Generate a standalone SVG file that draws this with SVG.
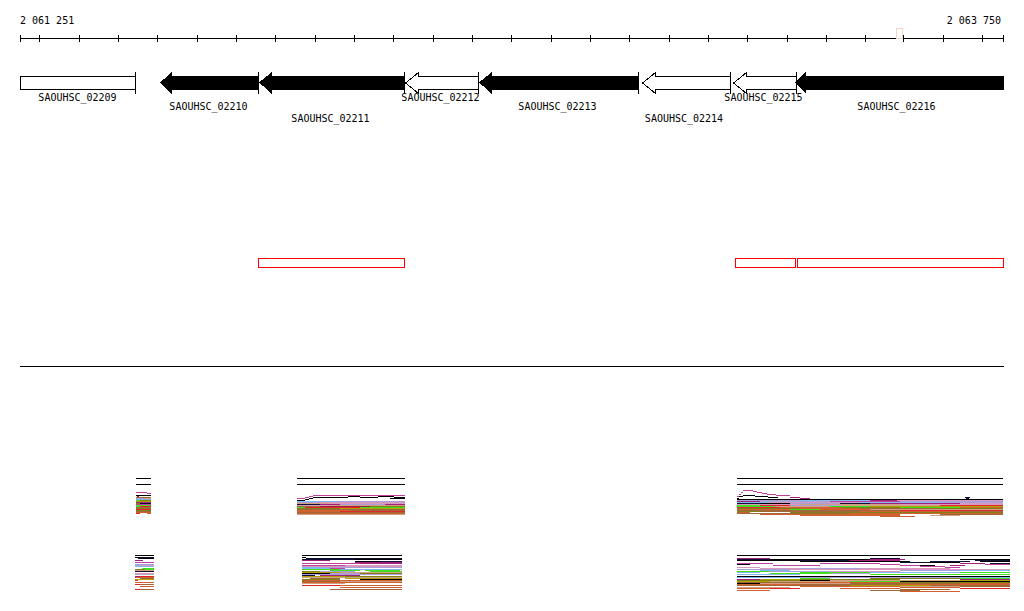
<svg xmlns="http://www.w3.org/2000/svg" width="1024" height="611" viewBox="0 0 1024 611">
<style>
text{font-family:"DejaVu Sans Mono","Liberation Mono",monospace;font-size:10px;fill:#000}
.lab{text-anchor:middle}
.ln{fill:none;stroke:#000;stroke-width:1;shape-rendering:crispEdges}
.blk{fill:#000;stroke:none;shape-rendering:crispEdges}
.wht{fill:#fff;stroke:#000;stroke-width:1;shape-rendering:crispEdges}
.red{fill:none;stroke:#f00;stroke-width:1;shape-rendering:crispEdges}
path.p{fill:none;stroke-width:1;shape-rendering:crispEdges}
.k{stroke:#000}.nv{stroke:#101035}.mg{stroke:#a0207a}.pk{stroke:#c040a0}.lp{stroke:#d898c0}
.lv{stroke:#a8a0d8}.lb{stroke:#80b8f0}.gr{stroke:#40e020}.ol{stroke:#808018}.yo{stroke:#b0a000}
.br{stroke:#a06838}.or{stroke:#d06030}.rd{stroke:#e02828}.dr{stroke:#a02040}.tn{stroke:#d0a080}.gy{stroke:#b0b0b0}
</style>

<g id="ruler">
<text x="20" y="24">2 061 251</text>
<text x="1001" y="24" text-anchor="end">2 063 750</text>
<path class="ln" d="M20 38.5H1004 M20.5 35V42 M1003.5 35V42 M39.5 35V42 M79.5 35V42 M118.5 35V42 M157.5 35V42 M197.5 35V42 M236.5 35V42 M275.5 35V42 M315.5 35V42 M354.5 35V42 M393.5 35V42 M433.5 35V42 M472.5 35V42 M511.5 35V42 M551.5 35V42 M590.5 35V42 M629.5 35V42 M669.5 35V42 M708.5 35V42 M747.5 35V42 M787.5 35V42 M826.5 35V42 M865.5 35V42 M903.5 35V42 M943.5 35V42 M982.5 35V42"/>
<rect x="896.5" y="28.5" width="6" height="10" fill="#fff" stroke="#f4d4c4" stroke-width="1" shape-rendering="crispEdges"/>
</g>

<g id="SAOUHSC_02209">
<rect class="wht" x="20.5" y="76.5" width="115" height="13"/>
<path class="ln" d="M135.5 72V94"/>
<text class="lab" x="77.5" y="101">SAOUHSC_02209</text>
</g>
<g id="SAOUHSC_02210">
<polygon class="blk" points="160,82.5 172,72 172,76 258,76 258,90 172,90 172,94"/>
<path class="ln" d="M258.5 72V94"/>
<text class="lab" x="208.5" y="110">SAOUHSC_02210</text>
</g>
<g id="SAOUHSC_02211">
<polygon class="blk" points="259,82.5 272,72 272,76 404,76 404,90 272,90 272,94"/>
<path class="ln" d="M404.5 72V94"/>
<text class="lab" x="330.5" y="122">SAOUHSC_02211</text>
</g>
<g id="SAOUHSC_02212">
<polygon class="wht" points="405.5,83 418.5,72.5 418.5,76.5 478.5,76.5 478.5,89.5 418.5,89.5 418.5,93.5"/>
<path class="ln" d="M478.5 72V94"/>
<text class="lab" x="440.5" y="101">SAOUHSC_02212</text>
</g>
<g id="SAOUHSC_02213">
<polygon class="blk" points="479,82.5 492,72 492,76 638,76 638,90 492,90 492,94"/>
<path class="ln" d="M638.5 72V94"/>
<text class="lab" x="557.5" y="110">SAOUHSC_02213</text>
</g>
<g id="SAOUHSC_02214">
<polygon class="wht" points="642.5,83 655.5,72.5 655.5,76.5 730.5,76.5 730.5,89.5 655.5,89.5 655.5,93.5"/>
<path class="ln" d="M730.5 72V94"/>
<text class="lab" x="684" y="122">SAOUHSC_02214</text>
</g>
<g id="SAOUHSC_02215">
<polygon class="wht" points="733.5,83 746.5,72.5 746.5,76.5 796.5,76.5 796.5,89.5 746.5,89.5 746.5,93.5"/>
<path class="ln" d="M796.5 72V94"/>
<text class="lab" x="763.5" y="101">SAOUHSC_02215</text>
</g>
<g id="SAOUHSC_02216">
<polygon class="blk" points="795,82.5 806,72 806,76 1004,76 1004,90 806,90 806,94"/>
<text class="lab" x="896.5" y="110">SAOUHSC_02216</text>
</g>

<g id="features">
<rect class="red" x="258.5" y="258.5" width="146" height="9"/>
<rect class="red" x="735.5" y="258.5" width="60" height="9"/>
<rect class="red" x="797.5" y="258.5" width="206" height="9"/>
</g>

<g id="connectors">
<path class="ln" d="M20 366.5H1004"/>
</g>

<g id="track1">
<!-- column A -->
<path class="p k" d="M136 478.5H151M136 484.5H151M136 495.5H151"/>
<path class="p pk" d="M136 492.5H147M147 493.5H151M136 504.5H151"/>
<path class="p dr" d="M137 496.5H139"/>
<path class="p br" d="M136 497.5H151M136 507.5H151M136 511.5H151"/>
<path class="p lv" d="M136 498.5H144"/>
<path class="p tn" d="M144 498.5H151"/>
<path class="p lb" d="M136 499.5H151"/>
<path class="p gr" d="M136 500.5H140M136 505.5H151M136 506.5H140"/>
<path class="p ol" d="M140 500.5H151M136 503.5H140M136 508.5H151M136 510.5H151"/>
<path class="p yo" d="M136 501.5H151"/>
<path class="p mg" d="M136 502.5H151"/>
<path class="p nv" d="M140 503.5H151"/>
<path class="p rd" d="M140 506.5H151M136 509.5H151M136 513.5H140"/>
<path class="p or" d="M136 512.5H151M147 513.5H151"/>
<!-- column B -->
<path class="p k" d="M297 478.5H405M297 484.5H405M297 500.5H305M305 499.5H309M309 498.5H313M313 497.5H348M348 496.5H360M360 497.5H378M378 496.5H394M394 497.5H405M390 498.5H405"/>
<path class="p pk" d="M297 498.5H305M305 497.5H309M309 496.5H313M313 495.5H405"/>
<path class="p lb" d="M297 501.5H340"/>
<path class="p lv" d="M340 501.5H405M297 502.5H320M340 504.5H385"/>
<path class="p lp" d="M320 502.5H405M330 503.5H405M297 505.5H330"/>
<path class="p tn" d="M297 503.5H330M330 505.5H405M297 514.5H405"/>
<path class="p nv" d="M297 504.5H320"/>
<path class="p mg" d="M320 504.5H340M385 504.5H405"/>
<path class="p br" d="M297 506.5H320M297 509.5H405M350 510.5H405M297 512.5H405"/>
<path class="p dr" d="M320 506.5H370"/>
<path class="p ol" d="M370 506.5H405M297 508.5H340"/>
<path class="p gr" d="M297 507.5H305M360 507.5H405"/>
<path class="p rd" d="M305 507.5H360M340 511.5H405"/>
<path class="p yo" d="M340 508.5H405"/>
<path class="p or" d="M297 510.5H350M297 511.5H340M297 513.5H405"/>
<!-- column C -->
<path class="p k" d="M737 478.5H1003M737 484.5H1003M737 499.5H1003M737 498.5H739M739 496.5H743M743 495.5H755M755 496.5H768M768 497.5H778M760 503.5H790"/>
<path class="p pk" d="M737 496.5H739M739 494.5H741M741 492.5H743M743 490.5H753M753 491.5H757M757 492.5H762M762 493.5H767M767 494.5H776M776 495.5H790M830 501.5H900"/>
<path class="p mg" d="M790 497.5H800M800 498.5H810M870 500.5H897M737 501.5H760M870 503.5H960"/>
<path class="p lv" d="M737 500.5H800M760 501.5H830M900 501.5H1003M940 502.5H1003M790 503.5H840M790 505.5H840"/>
<path class="p lb" d="M800 500.5H870M737 502.5H770M860 502.5H940"/>
<path class="p lp" d="M897 500.5H1003M770 502.5H860M960 503.5H1003M737 504.5H800M900 504.5H1003"/>
<path class="p nv" d="M737 503.5H760M840 503.5H870M965 497.5H970M966 498.5H969"/>
<path class="p tn" d="M800 504.5H900M840 505.5H940M775 506.5H830M870 509.5H1003M930 515.5H960"/>
<path class="p gr" d="M737 505.5H760M737 506.5H775M830 506.5H870M900 507.5H960M790 509.5H820"/>
<path class="p rd" d="M760 505.5H790M940 505.5H1003M737 507.5H780M900 510.5H1003"/>
<path class="p yo" d="M870 506.5H1003"/>
<path class="p or" d="M780 507.5H840M960 507.5H1003M800 508.5H860M737 509.5H790M820 509.5H870M860 511.5H960M737 512.5H750M850 513.5H1003M760 514.5H900M800 515.5H900M880 516.5H915"/>
<path class="p ol" d="M840 507.5H900M737 508.5H800M940 508.5H1003M737 511.5H760M790 512.5H1003"/>
<path class="p br" d="M860 508.5H940M737 510.5H900M760 511.5H860M960 511.5H1003M737 513.5H850M940 514.5H1003"/>
</g>

<g id="track2">
<!-- column A -->
<path class="p k" d="M135 555.5H154M135 557.5H140M143 558.5H154"/>
<path class="p nv" d="M140 557.5H154M138 558.5H143M135 571.5H154"/>
<path class="p mg" d="M135 560.5H143M135 576.5H140"/>
<path class="p pk" d="M135 562.5H154"/>
<path class="p lv" d="M135 564.5H154"/>
<path class="p lb" d="M135 565.5H140M135 566.5H154"/>
<path class="p lp" d="M140 565.5H154M135 573.5H154"/>
<path class="p gr" d="M142 568.5H154M145 569.5H154"/>
<path class="p ol" d="M135 569.5H145"/>
<path class="p tn" d="M135 570.5H154"/>
<path class="p gy" d="M135 574.5H154"/>
<path class="p rd" d="M140 576.5H154M135 580.5H138M135 584.5H140M135 589.5H140"/>
<path class="p or" d="M135 577.5H154M135 582.5H154M140 586.5H154"/>
<path class="p br" d="M140 578.5H154M140 584.5H154M140 589.5H154"/>
<path class="p yo" d="M135 579.5H154"/>
<!-- column B -->
<path class="p k" d="M302 555.5H402M302 557.5H306M355 559.5H402M355 561.5H380M302 573.5H330M360 579.5H402"/>
<path class="p nv" d="M306 558.5H402M302 559.5H355M380 561.5H402M302 575.5H315"/>
<path class="p mg" d="M302 560.5H330M355 562.5H402M360 563.5H402M320 575.5H360"/>
<path class="p pk" d="M302 563.5H360M302 565.5H345M330 568.5H345"/>
<path class="p lp" d="M345 565.5H402M302 566.5H402"/>
<path class="p lb" d="M302 567.5H320M302 568.5H330M340 569.5H402"/>
<path class="p lv" d="M320 567.5H402M320 571.5H355M330 573.5H360M302 574.5H402"/>
<path class="p gr" d="M302 569.5H340M330 570.5H360M365 570.5H400M370 571.5H402"/>
<path class="p ol" d="M302 571.5H320M360 573.5H402M345 576.5H402M302 579.5H340"/>
<path class="p yo" d="M302 572.5H340M302 576.5H345M345 578.5H402"/>
<path class="p tn" d="M340 572.5H402M302 577.5H402M340 581.5H402M302 583.5H345"/>
<path class="p br" d="M310 578.5H340M302 581.5H340M330 589.5H402"/>
<path class="p or" d="M302 580.5H402M302 582.5H402M340 585.5H402M340 587.5H402"/>
<path class="p rd" d="M302 585.5H340"/>
<!-- column C -->
<path class="p k" d="M737 555.5H1010M770 559.5H870M960 559.5H1010M737 560.5H800M800 561.5H910M980 561.5H1010M930 562.5H960M737 564.5H750M910 565.5H935M737 576.5H1010M800 580.5H830M900 581.5H1010M737 583.5H760"/>
<path class="p nv" d="M737 559.5H770M870 558.5H900M800 560.5H850M975 560.5H1010M930 561.5H970M900 562.5H930M990 563.5H1010"/>
<path class="p mg" d="M737 558.5H770M870 559.5H905M850 560.5H900M960 563.5H985M950 565.5H965M737 579.5H760M960 579.5H1010"/>
<path class="p pk" d="M737 563.5H773M820 563.5H880M880 564.5H900M985 564.5H1010M773 565.5H820M900 565.5H920M920 566.5H945M945 567.5H960"/>
<path class="p lp" d="M737 567.5H760M760 568.5H800M860 568.5H950M790 569.5H1010M830 571.5H900"/>
<path class="p lv" d="M800 568.5H860M737 569.5H790M900 570.5H960M770 571.5H830M830 573.5H870M800 577.5H960"/>
<path class="p lb" d="M760 570.5H790M960 570.5H1010M737 572.5H760M870 572.5H960M737 574.5H800M737 577.5H800M960 577.5H1010"/>
<path class="p gr" d="M737 571.5H770M800 572.5H870M960 572.5H1010M770 573.5H830M870 574.5H1010M800 578.5H830M960 578.5H1010M850 581.5H900"/>
<path class="p ol" d="M870 578.5H960M800 579.5H900M737 580.5H800M900 582.5H1010"/>
<path class="p yo" d="M760 579.5H800M960 580.5H1010M737 581.5H770M850 585.5H930"/>
<path class="p tn" d="M830 580.5H960M770 581.5H850M760 583.5H850M900 586.5H960M737 587.5H790"/>
<path class="p br" d="M737 582.5H800M850 583.5H960M800 584.5H900M737 585.5H850M930 585.5H1010M960 586.5H1010M900 589.5H950M870 590.5H920"/>
<path class="p or" d="M800 582.5H900M960 583.5H1010M737 584.5H800M900 584.5H1010M800 586.5H900M900 587.5H960M737 588.5H770M840 588.5H900M737 590.5H770M900 591.5H960"/>
<path class="p rd" d="M770 588.5H800M960 588.5H1010"/>
</g>
</svg>
